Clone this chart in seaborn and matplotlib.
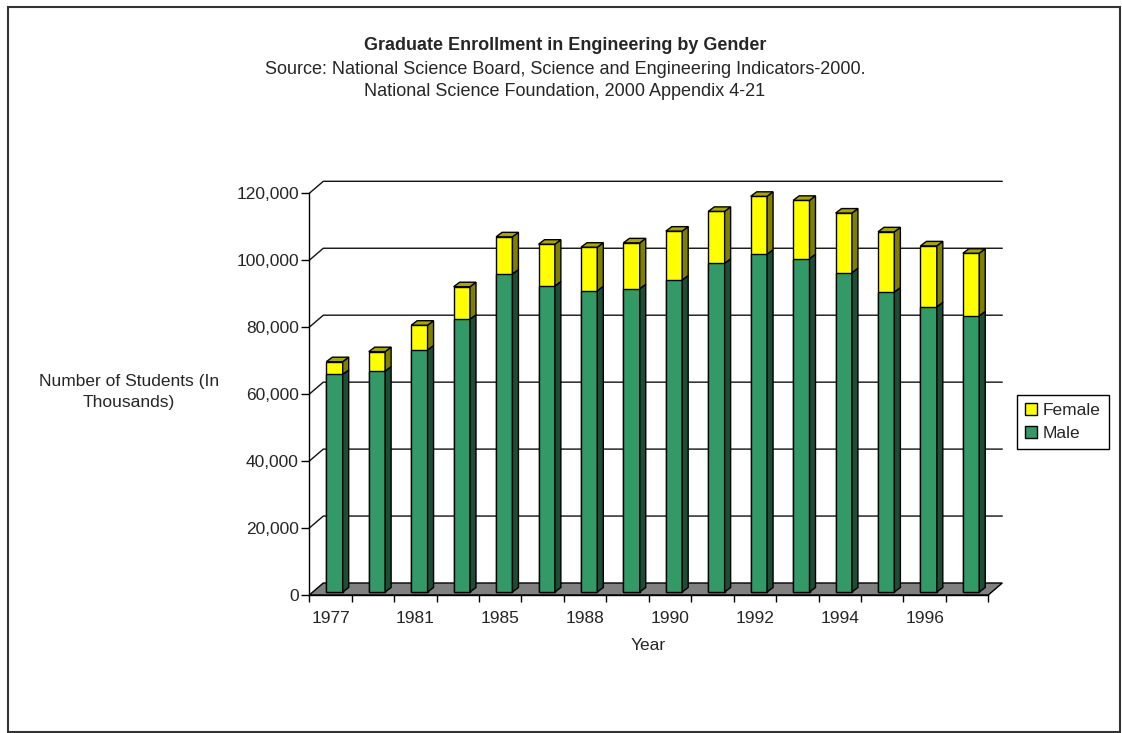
import matplotlib
matplotlib.use('Agg')
import matplotlib.pyplot as plt
import numpy as np
import pandas as pd
import seaborn as sns

from matplotlib.patches import Polygon, Rectangle, Patch
from matplotlib.transforms import ScaledTranslation, IdentityTransform
from matplotlib.ticker import FuncFormatter

# values
years = [1977, 1979, 1981, 1983, 1985, 1986, 1988, 1989,
         1990, 1991, 1992, 1993, 1994, 1995, 1996, 1997]
male = [65000, 66000, 72300, 81500, 95000, 91400, 90000, 90600,
        93200, 98200, 100900, 99600, 95400, 89600, 85200, 82500]
female = [3800, 5800, 7400, 9700, 11100, 12500, 13000, 13700,
          14600, 15500, 17300, 17400, 17800, 18000, 18200, 18700]
yticks = [0, 20000, 40000, 60000, 80000, 100000, 120000]

GREEN = '#339966'
GREEN_SIDE = '#1d4d35'
YELLOW = '#ffff00'
YELLOW_SIDE = '#808000'
YELLOW_TOP = '#a6a600'
FLOOR = '#808080'

sns.set_style('white')
plt.rcParams['font.family'] = ['Liberation Sans', 'DejaVu Sans']
FS = 12.5
FS_TITLE = 13

W, H = 1122, 733
fig = plt.figure(figsize=(W / 100, H / 100), dpi=100)
ax = fig.add_axes([309.3 / W, (H - 595) / H, 679 / W, 401.7 / H])

df = pd.DataFrame({'year': [str(y) for y in years], 'Male': male, 'Female': female})
df['total'] = df['Male'] + df['Female']

BAR_W = 0.385
sns.barplot(data=df, x='year', y='total', color=YELLOW, saturation=1, width=BAR_W,
            edgecolor='black', linewidth=1, errorbar=None, ax=ax, zorder=3)
sns.barplot(data=df, x='year', y='Male', color=GREEN, saturation=1, width=BAR_W,
            edgecolor='black', linewidth=1, errorbar=None, ax=ax, zorder=4)

ax.set_xlim(-0.5, 15.5)
ax.set_ylim(0, 120000)
ax.set_xlabel('')
ax.set_ylabel('')

# pseudo 3d offsets, in pixels
SHIFT = np.array([4, 3])     # bars sit a little behind the front plane
DEPTH = np.array([6, 4.5])   # bar depth
WALL = np.array([14, 12])    # back wall depth

for p in ax.patches:
    p.set_transform(ax.transData + ScaledTranslation(SHIFT[0] / 100, SHIFT[1] / 100,
                                                    fig.dpi_scale_trans))


def px(x, y):
    return ax.transData.transform((x, y))


def face(pts, color, z):
    ax.add_patch(Polygon(pts, closed=True, transform=IdentityTransform(), facecolor=color,
                         edgecolor='black', linewidth=1, zorder=z, clip_on=False))


# side and top faces of each bar
for i, (m, t) in enumerate(zip(df['Male'], df['total'])):
    xr = i + BAR_W / 2
    xl = i - BAR_W / 2
    p0 = px(xr, 0) + SHIFT
    pm = px(xr, m) + SHIFT
    pt = px(xr, t) + SHIFT
    pl = px(xl, t) + SHIFT
    face([p0, p0 + DEPTH, pm + DEPTH, pm], GREEN_SIDE, 4)
    face([pm, pm + DEPTH, pt + DEPTH, pt], YELLOW_SIDE, 4)
    face([pl, pt, pt + DEPTH, pl + DEPTH], YELLOW_TOP, 4)

# floor
f0 = px(-0.5, 0)
f1 = px(15.5, 0)
face([f0, f1, f1 + WALL, f0 + WALL], FLOOR, 1.5)

# back wall gridlines and the little connectors from the front axis
for v in yticks[1:]:
    a = px(-0.5, v)
    b = px(15.5, v)
    ax.add_line(plt.Line2D([a[0], a[0] + WALL[0], b[0] + WALL[0]],
                           [a[1], a[1] + WALL[1], b[1] + WALL[1]],
                           transform=IdentityTransform(), color='#111111', linewidth=1,
                           zorder=1, clip_on=False))

for side in ['top', 'right']:
    ax.spines[side].set_visible(False)
for side in ['left', 'bottom']:
    ax.spines[side].set_color('black')
    ax.spines[side].set_linewidth(1)
    ax.spines[side].set_zorder(2)
ax.patch.set_visible(False)

ax.set_yticks(yticks)
ax.yaxis.set_major_formatter(FuncFormatter(lambda v, _: f'{v:,.0f}'))
ax.tick_params(axis='y', direction='out', length=6, width=1, pad=1.5, labelsize=FS,
               left=True, color='black')

ax.set_xticks(np.arange(-0.5, 16, 1))
ax.set_xticklabels([])
ax.set_xticks(np.arange(0, 16, 2), minor=True)
ax.set_xticklabels([str(y) for y in years[::2]], minor=True)
ax.tick_params(axis='x', which='major', direction='out', length=5, width=1, bottom=True,
               color='black')
ax.tick_params(axis='x', which='minor', length=0, pad=11.5, labelsize=FS)

# titles and axis labels
fig.text(565 / W, 1 - 45 / H, 'Graduate Enrollment in Engineering by Gender',
         ha='center', va='center', fontsize=FS_TITLE, fontweight='bold')
fig.text(565 / W, 1 - 69 / H,
         'Source: National Science Board, Science and Engineering Indicators-2000.',
         ha='center', va='center', fontsize=FS_TITLE)
fig.text(565 / W, 1 - 92 / H, 'National Science Foundation, 2000 Appendix 4-21',
         ha='center', va='center', fontsize=FS_TITLE)
fig.text(129 / W, 1 - 392.5 / H, 'Number of Students (In\nThousands)', ha='center',
         va='center', multialignment='center', fontsize=FS, linespacing=1.5)
fig.text(648 / W, 1 - 645 / H, 'Year', ha='center', va='center', fontsize=FS)

handles = [Patch(facecolor=YELLOW, edgecolor='black', label='Female'),
           Patch(facecolor=GREEN, edgecolor='black', label='Male')]
leg = fig.legend(handles=handles, loc='center left', bbox_to_anchor=(1017 / W, 1 - 422 / H),
                 frameon=True, fancybox=False, edgecolor='black', framealpha=1,
                 fontsize=FS, handlelength=0.7, handleheight=0.7, handletextpad=0.35,
                 borderpad=0.45, labelspacing=0.45, borderaxespad=0)
leg.get_frame().set_linewidth(1)

# outer frame
fig.add_artist(Rectangle((8 / W, 1 / H), 1112 / W, 725 / H, transform=fig.transFigure,
                         fill=False, edgecolor='#333333', linewidth=1.5))

fig.savefig('out.png', dpi=100)
